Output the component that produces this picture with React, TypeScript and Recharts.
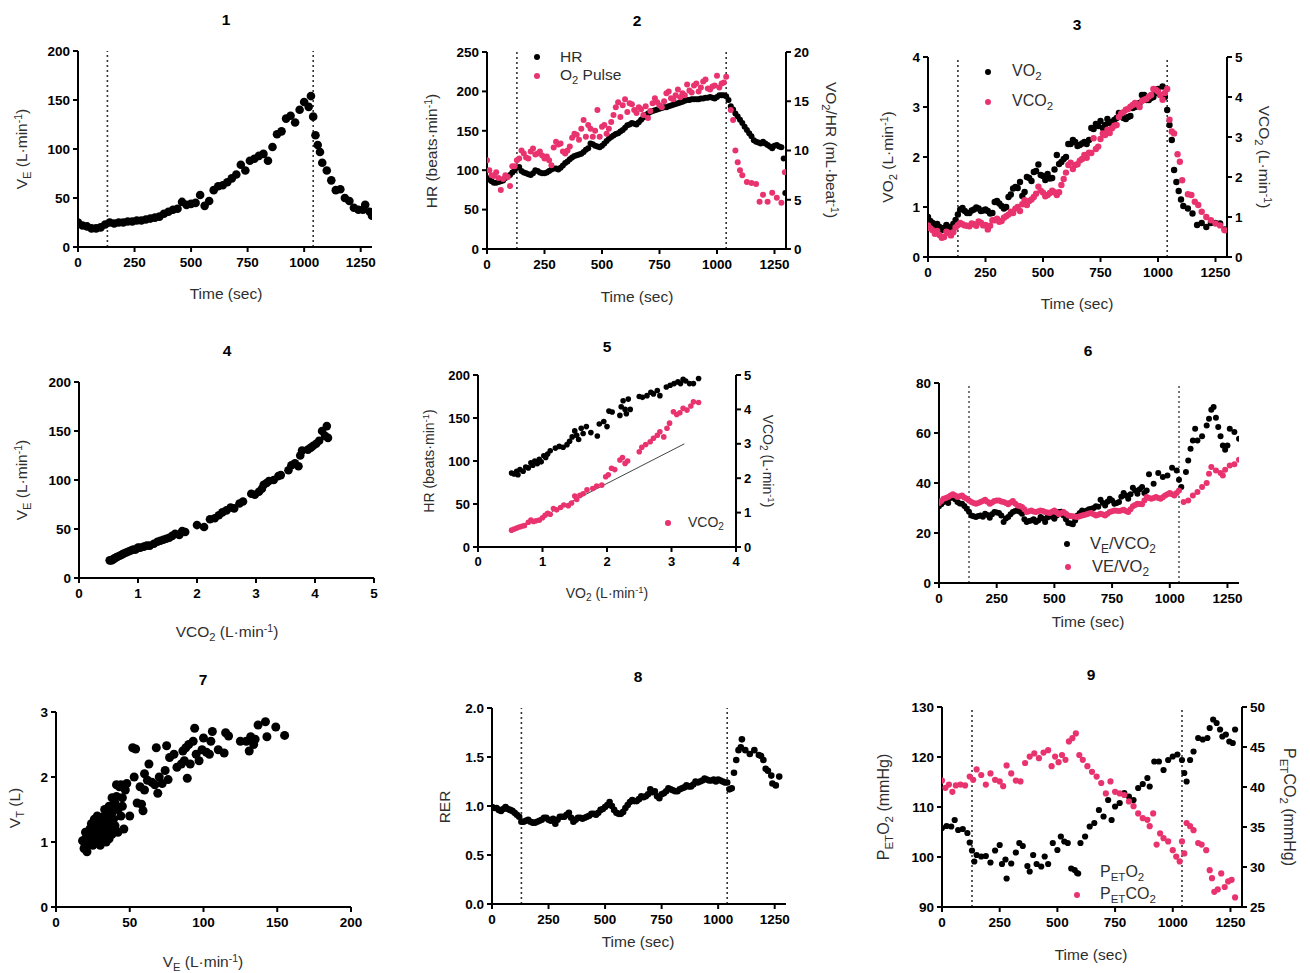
import React from 'react';
import { ScatterChart, Scatter, XAxis, YAxis, ReferenceLine } from 'recharts';

const FONT = '"Liberation Sans", Arial, Helvetica, sans-serif';
const BLACK = '#000000';
const PINK = '#e9336f';

// ---------- tick labels ----------
const timeTicks = [0, 250, 500, 750, 1000, 1250];
const ve200Ticks = [0, 50, 100, 150, 200];
const hr250Ticks = [0, 50, 100, 150, 200, 250];
const o2pTicks = [0, 5, 10, 15, 20];
const vo2Ticks = [0, 1, 2, 3, 4];
const vco2Ticks = [0, 1, 2, 3, 4, 5];
const ratioTicks = [0, 20, 40, 60, 80];
const vtTicks = [0, 1, 2, 3];
const ve7Ticks = [0, 50, 100, 150, 200];
const rerTicks = [0, 0.5, 1, 1.5, 2];
const peto2Ticks = [90, 100, 110, 120, 130];
const petco2Ticks = [25, 30, 35, 40, 45, 50];
const thresholds = [130, 1040];

// ---------- panel 1: VE vs time ----------
const p1Time = [0,20,40,60,80,100,120,140,160,180,200,220,240,260,280,300,320,340,360,380,400,420,440,460,480,500,520,540,560,580,600,620,640,660,680,700,720,740,760,780,800,820,840,860,880,900,920,940,960,980,1000,1020,1030,1040,1050,1060,1070,1080,1100,1120,1140,1160,1180,1200,1220,1240,1260,1270,1290,1300];
const p1VE = [25,22,21,19,19,20,23,25,24,25,25,26,26,27,27,28,29,30,31,34,36,38,39,46,43,44,45,53,42,47,58,62,63,66,70,74,84,78,88,90,93,95,88,102,115,118,131,134,127,140,148,143,154,133,114,104,97,86,78,68,58,59,50,47,40,38,38,43,36,32];

// ---------- panel 2: HR and O2 pulse vs time ----------
const p2TimeHR = [0,20,40,60,80,100,120,140,160,180,200,220,240,260,280,300,320,340,360,380,400,420,440,460,480,500,520,540,560,580,600,620,640,660,680,700,720,740,760,780,800,820,840,860,880,900,920,940,960,980,1000,1020,1040,1060,1080,1100,1120,1140,1160,1180,1200,1220,1240,1260,1280,1290,1297];
const p2HR = [90,86,84,86,90,94,100,104,97,95,96,99,96,97,101,102,103,109,114,118,120,123,128,133,130,131,137,142,146,149,154,158,159,161,167,172,175,177,179,180,182,184,186,188,189,190,190,191,192,192,193,195,194,181,172,164,155,147,138,135,136,132,128,132,129,115,71];
const p2TimeHRb = [10,30,50,70,90,110,130,150,170,190,210,230,250,270,290,310,330,350,370,390,410,430,450,470,490,510,530,550,570,590,610,630,650,670,690,710,730,750,770,790,810,830,850,870,890,910,930,950,970,990,1010,1030,1050,1070,1090,1110,1130,1150,1170,1190,1210,1230,1250,1270];
const p2HRb = [88,84,85,87,92,97,103,99,96,94,100,97,96,99,102,101,106,111,116,119,121,126,134,131,129,134,140,144,147,151,157,160,158,164,170,174,176,178,180,181,183,185,187,189,190,190,191,192,193,191,195,195,189,177,168,160,151,143,136,134,134,130,131,130];
const p2TimeO2 = [0,20,40,60,80,100,120,140,160,180,200,220,240,260,280,300,320,340,360,380,400,420,440,460,480,500,520,540,560,580,600,620,640,660,680,700,720,740,760,780,800,820,840,860,880,900,920,940,960,980,1000,1020,1040,1060,1070,1080,1090,1100,1110,1130,1150,1170,1185,1200,1220,1240,1260,1280,1295];
const p2O2Pulse = [9.0,7.5,7.8,6.0,7.5,6.4,8.4,9.2,9.7,9.2,10.2,9.7,9.5,9.4,8.5,10.9,10.7,9.7,10.4,11.7,11.1,13.1,12.6,11.4,14.1,12.4,11.7,12.9,14.4,13.4,15.2,14.8,14.1,14.4,13.6,13.3,14.8,14.9,14.4,15.8,15.3,15.6,15.4,15.6,16.1,16.6,16.0,17.0,16.3,16.5,17.6,16.8,17.5,14.1,13.1,10.0,8.8,8.0,7.5,6.8,6.7,6.6,4.8,5.5,4.8,5.7,5.2,4.7,7.8];
const p2TimeO2b = [10,30,50,70,90,110,130,150,170,190,210,230,250,270,290,310,330,350,370,390,410,430,450,470,490,510,530,550,570,590,610,630,650,670,690,710,730,750,770,790,810,830,850,870,890,910,930,950,970,990,1010,1030];
const p2O2Pulseb = [8.0,7.4,7.2,7.1,7.3,8.4,9.0,10.0,9.3,9.9,9.6,9.9,9.2,9.0,10.3,10.6,9.9,10.0,11.3,11.6,12.2,11.4,12.2,12.0,11.4,12.6,12.2,13.6,14.9,14.6,13.9,14.7,13.8,14.2,14.5,14.0,15.3,14.6,15.0,16.0,15.2,16.2,15.8,16.7,15.9,16.8,16.4,17.2,16.2,16.6,16.4,16.9];

// ---------- panel 3: VO2 and VCO2 vs time ----------
const p3TimeVO2 = [0,20,40,60,80,100,120,140,160,180,200,220,240,260,280,300,320,340,360,380,400,420,440,460,480,500,520,540,560,580,600,620,640,660,680,700,720,740,760,780,800,820,840,860,880,900,920,940,960,980,1000,1010,1020,1030,1040,1050,1060,1070,1080,1090,1100,1110,1130,1150,1170,1190,1210,1230,1250,1270,1290];
const p3VO2 = [0.80,0.68,0.66,0.54,0.64,0.55,0.74,0.95,0.92,0.88,0.95,0.97,0.93,0.92,0.88,1.12,1.02,1.00,1.25,1.40,1.50,1.30,1.58,1.70,1.85,1.62,1.66,1.58,2.04,1.90,2.00,2.26,2.30,2.24,2.30,2.34,2.56,2.62,2.58,2.76,2.70,2.78,2.84,2.76,2.82,3.00,3.08,3.24,3.14,3.20,3.36,3.24,3.41,3.20,2.94,2.64,2.34,1.74,1.50,1.32,1.15,1.02,0.97,0.87,0.64,0.68,0.60,0.68,0.68,0.67,0.55];
const p3TimeVO2b = [10,30,50,70,90,110,130,150,170,190,210,230,250,270,290,310,330,350,370,390,410,430,450,470,490,510,530,550,570,590,610,630,650,670,690,710,730,750,770,790,810,830,850,870,890,910,930,950,970,990];
const p3VO2b = [0.72,0.62,0.60,0.58,0.60,0.66,0.85,0.98,0.88,0.93,0.99,0.92,0.95,0.87,1.10,1.07,0.97,1.20,1.37,1.38,1.22,1.60,1.52,1.72,1.64,1.54,1.57,1.75,1.86,1.96,2.26,2.34,2.22,2.27,2.26,2.58,2.66,2.72,2.64,2.68,2.74,2.88,2.78,2.80,2.98,3.02,3.24,3.14,3.18,3.28];
const p3TimeVCO2 = [0,20,40,60,80,100,120,140,160,180,200,220,240,260,280,300,320,340,360,380,400,420,440,460,480,500,520,540,560,580,600,620,640,660,680,700,720,740,760,780,800,820,840,860,880,900,920,940,960,980,1000,1020,1040,1050,1060,1070,1085,1095,1105,1130,1145,1160,1175,1190,1210,1230,1250,1270,1290];
const p3VCO2 = [0.79,0.67,0.65,0.48,0.63,0.54,0.74,0.85,0.79,0.77,0.82,0.89,0.79,0.69,0.92,0.96,0.90,1.02,1.13,1.21,1.15,1.42,1.40,1.50,1.76,1.61,1.55,1.66,1.55,1.80,2.11,2.36,2.30,2.41,2.55,2.61,2.97,2.76,3.09,3.18,3.22,3.30,3.59,3.68,3.76,3.85,3.75,3.93,4.01,4.20,4.14,3.93,4.20,3.43,3.14,3.09,2.57,2.38,1.92,1.57,1.55,1.38,1.30,1.13,1.00,0.92,0.84,0.79,0.67];
const p3TimeVCO2b = [10,30,50,70,90,110,130,150,170,190,210,230,250,270,290,310,330,350,370,390,410,430,450,470,490,510,530,550,570,590,610,630,650,670,690,710,730,750,770,790,810,830,850,870,890,910,930,950,970,990,1010,1030];
const p3VCO2b = [0.72,0.58,0.55,0.50,0.60,0.62,0.80,0.82,0.78,0.84,0.78,0.86,0.80,0.78,0.92,0.88,0.98,1.06,1.10,1.25,1.32,1.30,1.44,1.58,1.66,1.52,1.60,1.62,1.62,1.95,2.30,2.20,2.32,2.45,2.48,2.60,2.70,2.95,3.05,3.10,3.28,3.50,3.62,3.70,3.80,3.82,3.90,3.95,4.05,4.18,4.05,4.10];

// ---------- panel 4: VE vs VCO2 ----------
const p4VCO2 = [0.52,0.55,0.58,0.6,0.63,0.66,0.7,0.73,0.76,0.8,0.84,0.88,0.92,0.96,1.0,1.04,1.1,1.15,1.2,1.27,1.33,1.38,1.43,1.48,1.53,1.58,1.63,1.7,1.75,1.8,2.0,2.12,2.22,2.3,2.37,2.43,2.5,2.57,2.63,2.72,2.78,2.92,2.98,3.05,3.1,3.13,3.18,3.22,3.3,3.38,3.42,3.55,3.6,3.66,3.72,3.75,3.78,3.88,3.93,3.97,4.02,4.07,4.12,4.17,4.2,4.22];
const p4VE = [18,18,19,20,21,22,23,24,25,26,27,28,29,29,31,31,32,33,33,35,37,38,39,40,41,43,45,44,48,47,54,52,60,61,64,67,69,72,71,76,78,86,85,88,91,95,97,99,100,104,105,110,115,117,114,125,130,131,133,135,137,140,150,145,155,143];

// ---------- panel 5: HR and VCO2 vs VO2 ----------
const p5VO2forHR = [0.52,0.56,0.6,0.62,0.65,0.7,0.74,0.78,0.82,0.85,0.88,0.92,0.95,0.98,1.02,1.05,1.08,1.12,1.2,1.26,1.32,1.38,1.42,1.46,1.5,1.53,1.56,1.6,1.63,1.68,1.75,1.85,1.88,1.95,2.0,2.03,2.08,2.2,2.22,2.25,2.28,2.3,2.33,2.36,2.5,2.55,2.62,2.68,2.72,2.78,2.82,2.92,2.98,3.04,3.1,3.14,3.18,3.22,3.28,3.34,3.42];
const p5HR = [86,85,88,84,90,88,93,92,98,95,100,97,102,99,106,104,108,112,115,117,116,119,123,128,135,130,125,138,132,140,133,129,143,146,140,158,157,153,163,170,160,155,172,160,175,174,176,180,178,182,176,186,188,190,192,190,195,193,190,190,196];
const p5VO2forVCO2 = [0.52,0.56,0.6,0.64,0.68,0.72,0.78,0.82,0.86,0.9,0.95,1.0,1.04,1.08,1.12,1.17,1.22,1.28,1.33,1.4,1.45,1.5,1.53,1.58,1.63,1.69,1.78,1.84,1.92,1.98,2.02,2.07,2.12,2.2,2.24,2.28,2.32,2.5,2.54,2.6,2.67,2.72,2.78,2.82,2.88,2.93,2.97,3.03,3.08,3.13,3.18,3.24,3.3,3.34,3.42];
const p5VCO2 = [0.49,0.52,0.55,0.58,0.6,0.62,0.72,0.78,0.74,0.76,0.78,0.85,0.92,0.98,0.95,1.12,1.08,1.15,1.22,1.2,1.28,1.48,1.38,1.5,1.55,1.66,1.7,1.77,1.8,2.04,2.1,2.29,2.25,2.53,2.6,2.43,2.5,2.77,2.9,2.98,3.06,3.16,3.25,3.35,3.2,3.45,3.6,3.93,3.85,3.9,4.03,3.98,4.1,4.22,4.2];
const p5LineVO2 = [1.15, 3.2];
const p5LineVCO2 = [1.03, 3.0];

// ---------- panel 6: ventilatory equivalents vs time ----------
const p6TimeA = [0,20,40,60,80,100,120,140,160,180,200,220,240,260,280,300,320,340,360,380,400,420,440,460,480,500,520,540,560,580,600,620,640,660,680,700,720,740,760,780,800,820,840,860,880,900,910,930,950,970,990,1010,1030,1040,1050,1070,1080,1090,1100,1110,1120,1140,1160,1170,1180,1190,1200,1210,1220,1230,1240,1250,1260,1280,1300];
const p6VEVCO2 = [30.7,32.4,32,34.7,32.4,31.7,29.7,27,26.4,27,27.7,26.1,28.4,28,24.4,26.4,28.4,29,27.7,24.4,25,24.4,26.4,24.4,27,25.7,28.4,27,24,23.5,27,29,29,29.7,30.7,33.3,31,33.7,31.7,32.4,36,33.7,38.1,35.7,38.4,37,43.5,39.7,44,42.4,43,46.1,45,41.3,38.4,44.4,49,53.7,57,61.7,57,58.7,63,65.7,69.3,70.4,66.1,62.4,58.7,55,53.3,55,61.7,60.4,57.7];
const p6TimeAb = [10,30,50,70,90,110,130,150,170,190,210,230,250,270,290,310,330,350,370,390,410,430,450,470,490,510,530,550,570,590,610,630,650,670,690,710,730,750,770,790,810,830,850,870,890];
const p6VEVCO2b = [31.5,32.8,34,33.5,31.8,30.8,28.5,26.7,26.8,26.5,27.2,27.5,28.2,27,25.8,27.5,28.8,28.5,25.5,24.8,25.5,25,25.8,26.2,26.5,27,28.5,25.5,23.8,25,28,28.5,29.5,30,30.5,32,32.5,33,32,34.5,35,35.5,37,37.5,36];
const p6TimeB = [0,20,40,60,80,100,120,140,160,180,200,220,240,260,280,300,320,340,360,380,400,420,440,460,480,500,520,540,560,580,600,620,640,660,680,700,720,740,760,780,800,820,840,860,880,900,920,940,960,980,1000,1020,1040,1060,1080,1100,1120,1140,1160,1170,1180,1200,1220,1230,1240,1260,1280,1300];
const p6VEVO2 = [32,33.7,34.4,35.5,34.4,35,33.7,32.4,31.7,32.4,33.3,31.7,32.8,33,32.4,31.5,32.8,31,30.4,28.4,29,28.4,29,28.4,28,29,27.5,28.4,27,26.7,26.4,27,27.5,28,27,27.7,27,28.4,29,28.8,29.3,28.4,30.7,31.7,31.5,34.4,33.7,34.4,33.7,35,36,35,37,32.4,33,35,36.4,38.4,40,43.7,46.4,45,44,43,45.3,47,47.5,49.3];
const p6TimeBb = [10,30,50,70,90,110,130,150,170,190,210,230,250,270,290,310,330,350,370,390,410,430,450,470,490,510,530,550,570,590,610,630,650,670,690,710,730,750,770,790,810,830,850,870,890,910,930,950,970,990,1010,1030];
const p6VEVO2b = [32.8,34,35,35,34.7,34.2,33,32,32,32.8,32.5,32.2,33,32.6,32,32.2,31.8,30.8,29.5,28.7,28.6,28.7,28.8,28.2,28.5,28.2,28,27.7,26.8,26.5,26.7,27.2,27.8,27.5,27.3,27.4,27.7,28.7,28.9,29,28.8,29.5,31.2,31.6,33,34,34,34,34.3,35.5,35.5,36];

// ---------- panel 7: VT vs VE ----------
const p7VE = [18,19,20,21,22,22,23,24,24,25,25,26,26,27,27,28,28,29,29,30,30,31,31,32,32,33,33,34,34,35,35,36,36,37,38,38,38,39,40,40,41,41,42,42,43,44,44,45,45,46,46,47,48,50,52,53,54,55,57,58,59,60,60,62,63,65,67,68,69,70,72,74,75,76,77,80,82,85,86,87,88,89,90,91,93,94,95,97,99,100,102,104,105,106,110,114,115,117,125,129,131,132,134,135,137,142,143,149,155,20,21,23,24,25,26,27,28,29,30,31,32,33,34,35,36,37,39,26,29];
const p7VT = [1.02,0.9,1.05,0.85,1.1,0.95,1.2,1.0,1.28,1.1,0.95,1.15,1.35,1.05,1.25,1.0,1.4,1.15,1.3,0.95,1.2,1.1,1.38,1.05,1.25,1.3,1.5,1.15,1.0,1.2,1.4,1.05,1.55,1.3,1.12,1.45,1.68,1.35,1.25,1.6,1.7,1.88,1.5,1.15,1.85,1.4,1.88,1.55,1.68,1.2,1.85,1.8,1.9,1.4,2.45,2.0,2.43,1.6,1.85,1.58,1.48,1.8,2.05,1.95,2.2,1.92,1.88,2.45,1.75,2.0,1.9,2.1,2.48,1.96,2.3,2.35,2.15,2.2,2.4,2.25,2.45,1.98,2.5,2.2,2.55,2.75,2.35,2.25,2.42,2.6,2.38,2.35,2.55,2.7,2.42,2.37,2.68,2.63,2.55,2.55,2.4,2.62,2.5,2.58,2.8,2.85,2.62,2.77,2.64,1.15,1.0,0.98,1.12,1.22,1.05,1.32,1.18,1.02,1.3,1.22,1.12,1.02,1.28,1.08,1.2,1.45,1.52,0.98,1.22];

// ---------- panel 8: RER vs time ----------
const p8Time = [0,20,40,60,80,100,120,140,160,180,200,220,240,260,280,300,320,340,360,380,400,420,440,460,480,500,520,540,560,580,600,620,640,660,680,700,720,740,760,780,800,820,840,860,880,900,920,940,960,980,1000,1020,1040,1050,1060,1070,1080,1090,1100,1105,1120,1140,1160,1180,1190,1200,1210,1220,1235,1240,1255,1270];
const p8RER = [0.99,0.98,0.95,0.99,0.96,0.93,0.89,0.84,0.86,0.83,0.84,0.86,0.88,0.85,0.82,0.89,0.89,0.93,0.84,0.88,0.87,0.89,0.92,0.91,0.96,0.99,1.04,0.96,0.92,0.94,1.01,1.06,1.05,1.10,1.10,1.17,1.15,1.08,1.13,1.18,1.16,1.15,1.18,1.21,1.20,1.25,1.25,1.28,1.26,1.27,1.27,1.25,1.24,1.17,1.18,1.34,1.47,1.57,1.60,1.68,1.57,1.53,1.57,1.52,1.51,1.47,1.38,1.36,1.31,1.23,1.21,1.30];
const p8Timeb = [10,30,50,70,90,110,130,150,170,190,210,230,250,270,290,310,330,350,370,390,410,430,450,470,490,510,530,550,570,590,610,630,650,670,690,710,730,750,770,790,810,830,850,870,890,910,930,950,970,990,1010,1030];
const p8RERb = [0.98,0.96,0.97,0.97,0.95,0.91,0.84,0.85,0.84,0.83,0.85,0.88,0.86,0.87,0.86,0.89,0.91,0.88,0.86,0.88,0.88,0.90,0.92,0.93,0.97,1.01,1.00,0.93,0.92,0.98,1.04,1.05,1.07,1.09,1.12,1.14,1.10,1.12,1.15,1.17,1.15,1.17,1.19,1.20,1.22,1.24,1.26,1.27,1.26,1.25,1.26,1.24];

// ---------- panel 9: end-tidal gases vs time ----------
const p9TimeO2 = [0,20,40,55,70,90,110,120,130,140,150,170,190,210,230,250,260,275,280,300,320,335,350,370,380,395,410,430,445,460,480,500,515,530,545,560,575,590,600,620,640,660,680,700,720,735,750,770,790,810,830,850,870,890,900,920,940,960,980,1000,1020,1040,1050,1060,1075,1090,1110,1130,1150,1160,1175,1190,1205,1215,1230,1245,1260,1270];
const p9PETO2 = [105.8,106.2,106.1,107.4,105.4,105.6,104.8,102.9,101.3,99.1,100.4,100.1,100.2,98.9,101.3,102.4,98.6,99.5,95.7,98.7,100.9,102.8,102.2,98.2,97.1,100.4,98.6,98.1,100.1,98.6,102.8,101.4,104.1,103.1,102.8,97.7,97.4,96.7,102.8,104.1,106.1,106.8,109.4,108.1,111.4,107.4,110.1,110.8,112.8,112.1,111.4,113.8,114.6,115.8,114.1,119.1,119.1,117.4,119.4,120.1,120.5,119.4,116.8,115.1,119.4,121.1,123.8,123.5,123.8,125.8,127.5,126.8,125.5,124.1,124.5,123.1,122.8,125.5];
const p9TimeCO2 = [0,15,30,45,60,80,100,120,135,150,170,190,210,230,250,265,280,300,320,340,360,380,400,420,440,460,475,490,505,520,535,550,565,580,595,610,630,650,670,690,710,730,750,770,790,810,830,850,870,890,900,915,930,945,960,980,1000,1015,1030,1040,1050,1060,1075,1090,1110,1125,1145,1160,1170,1180,1195,1210,1225,1240,1255,1270];
const p9PETCO2 = [40.8,39.9,40.3,39.4,40.2,40.3,40.2,41.3,40.9,42.2,41.5,40.3,41.7,40.9,40.7,40.1,42.7,41.7,40.8,40.7,43.0,43.8,44.2,43.6,44.3,44.6,42.6,43.8,43.1,44.0,43.4,45.7,46.1,46.7,44.0,43.4,42.6,41.9,41.3,40.5,39.2,40.7,39.4,39.2,39.0,38.2,37.6,36.7,36.1,35.9,35.1,36.7,32.8,34.2,33.6,33.2,32.1,31.3,30.7,33.2,31.7,35.5,35.1,34.6,33.0,32.8,32.1,29.6,28.6,26.9,27.2,29.2,27.5,28.2,28.4,26.2];

// ---------- helpers ----------
const zip = (xs: number[], ys: number[]) => xs.map((x, i) => ({ x, y: ys[i] }));

type Pt = { x: number; y: number };
type SeriesDef = { data: Pt[]; color: string; r: number; axis?: 'left' | 'right' };
type PanelDef = {
  l: number; t: number; r: number; b: number;
  xDomain: [number, number]; xTicks: number[];
  yDomain: [number, number]; yTicks: number[];
  yRDomain?: [number, number]; yRTicks?: number[];
  yFmt?: (v: number) => string;
  series: SeriesDef[];
  vlines?: number[];
  segment?: [Pt, Pt];
  fs?: number;
  vlineWidth?: number;
};

function Panel(p: PanelDef) {
  const leftW = 52;
  const hasR = !!p.yRDomain;
  const rightW = hasR ? 45 : 14;
  const topPad = 12;
  const xH = 32;
  const width = p.r - p.l + leftW + rightW;
  const height = p.b - p.t + topPad + xH;
  const tick = { fill: '#000', fontSize: p.fs ?? 13.5, fontWeight: 700, fontFamily: FONT };
  const line = { stroke: '#000', strokeWidth: 2 };
  return (
    <div style={{ position: 'absolute', left: p.l - leftW, top: p.t - topPad }}>
      <ScatterChart width={width} height={height} margin={{ top: topPad, right: hasR ? 0 : rightW, bottom: 0, left: 0 }}>
        <XAxis type="number" dataKey="x" domain={p.xDomain} ticks={p.xTicks} height={xH} interval={0}
          axisLine={line} tickLine={line} tickSize={5} tickMargin={5} tick={tick} allowDataOverflow />
        <YAxis yAxisId="left" type="number" dataKey="y" domain={p.yDomain} ticks={p.yTicks} width={leftW} interval={0}
          axisLine={line} tickLine={line} tickSize={5} tickMargin={3} tick={tick} tickFormatter={p.yFmt} allowDataOverflow />
        {hasR && (
          <YAxis yAxisId="right" orientation="right" type="number" dataKey="y" domain={p.yRDomain} ticks={p.yRTicks}
            width={rightW} interval={0} axisLine={line} tickLine={line} tickSize={5} tickMargin={3} tick={tick} allowDataOverflow />
        )}
        {(p.vlines ?? []).map((v) => (
          <ReferenceLine key={v} x={v} yAxisId="left" stroke="#333" strokeWidth={p.vlineWidth ?? 1.6} strokeDasharray="2 3" />
        ))}
        {p.segment && (
          <ReferenceLine yAxisId="right" segment={p.segment} stroke="#444" strokeWidth={1} />
        )}
        {p.series.map((s, i) => (
          <Scatter key={i} data={s.data} yAxisId={s.axis ?? 'left'} fill={s.color} isAnimationActive={false}
            shape={(props: any) => <circle cx={props.cx} cy={props.cy} r={s.r} fill={s.color} />} />
        ))}
      </ScatterChart>
    </div>
  );
}

const Sub = ({ children }: { children: React.ReactNode }) => (
  <span style={{ fontSize: '0.72em', position: 'relative', top: '0.32em', lineHeight: 0 }}>{children}</span>
);
const Sup = ({ children }: { children: React.ReactNode }) => (
  <span style={{ fontSize: '0.68em', position: 'relative', top: '-0.5em', lineHeight: 0 }}>{children}</span>
);

type TxtProps = { x: number; y: number; rot?: number; size?: number; weight?: number; color?: string; left?: boolean; children: React.ReactNode };
const Txt = ({ x, y, rot = 0, size = 15.5, weight = 400, color = '#2e2e2e', left = false, children }: TxtProps) => (
  <div style={{
    position: 'absolute', left: x, top: y,
    transform: `translate(${left ? '0' : '-50%'},-50%) rotate(${rot}deg)`,
    fontSize: size, fontWeight: weight, color, whiteSpace: 'nowrap', lineHeight: 1, fontFamily: FONT,
  }}>{children}</div>
);
const Dot = ({ x, y, r, color }: { x: number; y: number; r: number; color: string }) => (
  <div style={{ position: 'absolute', left: x - r, top: y - r, width: 2 * r, height: 2 * r, borderRadius: '50%', background: color }} />
);

const Title = ({ x, y, children }: { x: number; y: number; children: React.ReactNode }) => (
  <Txt x={x} y={y} size={15.5} weight={700} color="#000">{children}</Txt>
);

const LMin = () => (<>(L·min<Sup>-1</Sup>)</>);

export default function App() {
  return (
    <div style={{ position: 'absolute', left: 0, top: 0, width: 1310, height: 973, background: '#fff', fontFamily: FONT, overflow: 'hidden' }}>
      {/* Panel 1 */}
      <Panel l={78} t={51} r={372} b={247} xDomain={[0, 1300]} xTicks={timeTicks} yDomain={[0, 200]} yTicks={ve200Ticks}
        vlines={thresholds} series={[{ data: zip(p1Time, p1VE), color: BLACK, r: 4.3 }]} />
      <Title x={226} y={20}>1</Title>
      <Txt x={22} y={149} rot={-90}>V<Sub>E</Sub> <LMin /></Txt>
      <Txt x={226} y={294}>Time (sec)</Txt>

      {/* Panel 2 */}
      <Panel l={487} t={52} r={786} b={249} xDomain={[0, 1300]} xTicks={timeTicks} yDomain={[0, 250]} yTicks={hr250Ticks}
        yRDomain={[0, 20]} yRTicks={o2pTicks} vlines={thresholds}
        series={[
          { data: [...zip(p2TimeHR, p2HR), ...zip(p2TimeHRb, p2HRb)], color: BLACK, r: 3 },
          { data: [...zip(p2TimeO2, p2O2Pulse), ...zip(p2TimeO2b, p2O2Pulseb)], color: PINK, r: 3, axis: 'right' },
        ]} />
      <Title x={637} y={21}>2</Title>
      <Txt x={432} y={151} rot={-90}>HR (beats·min<Sup>-1</Sup>)</Txt>
      <Txt x={831} y={150} rot={90}>VO<Sub>2</Sub>/HR (mL·beat<Sup>-1</Sup>)</Txt>
      <Txt x={637} y={297}>Time (sec)</Txt>
      <Dot x={537} y={57} r={3} color={BLACK} />
      <Txt x={560} y={57} left size={15.5}>HR</Txt>
      <Dot x={537} y={76} r={3} color={PINK} />
      <Txt x={560} y={75} left size={15.5}>O<Sub>2</Sub> Pulse</Txt>

      {/* Panel 3 */}
      <Panel l={928} t={57} r={1227} b={257} xDomain={[0, 1300]} xTicks={timeTicks} yDomain={[0, 4]} yTicks={vo2Ticks}
        yRDomain={[0, 5]} yRTicks={vco2Ticks} vlines={thresholds}
        series={[
          { data: [...zip(p3TimeVO2, p3VO2), ...zip(p3TimeVO2b, p3VO2b)], color: BLACK, r: 3.2 },
          { data: [...zip(p3TimeVCO2, p3VCO2), ...zip(p3TimeVCO2b, p3VCO2b)], color: PINK, r: 3.2, axis: 'right' },
        ]} />
      <Title x={1077} y={25}>3</Title>
      <Txt x={888} y={157} rot={-90}>VO<Sub>2</Sub> <LMin /></Txt>
      <Txt x={1264} y={157} rot={90}>VCO<Sub>2</Sub> <LMin /></Txt>
      <Txt x={1077} y={304}>Time (sec)</Txt>
      <Dot x={988} y={72} r={3.2} color={BLACK} />
      <Txt x={1012} y={71} left size={16}>VO<Sub>2</Sub></Txt>
      <Dot x={988} y={102} r={3.2} color={PINK} />
      <Txt x={1012} y={101} left size={16}>VCO<Sub>2</Sub></Txt>

      {/* Panel 4 */}
      <Panel l={79} t={382} r={374} b={578} xDomain={[0, 5]} xTicks={vco2Ticks} yDomain={[0, 200]} yTicks={ve200Ticks}
        series={[{ data: zip(p4VCO2, p4VE), color: BLACK, r: 4.3 }]} />
      <Title x={227} y={351}>4</Title>
      <Txt x={22} y={480} rot={-90}>V<Sub>E</Sub> <LMin /></Txt>
      <Txt x={227} y={632}>VCO<Sub>2</Sub> <LMin /></Txt>

      {/* Panel 5 */}
      <Panel l={478} t={375} r={736} b={547} xDomain={[0, 4]} xTicks={vo2Ticks} yDomain={[0, 200]} yTicks={ve200Ticks}
        yRDomain={[0, 5]} yRTicks={vco2Ticks} fs={13}
        segment={[{ x: p5LineVO2[0], y: p5LineVCO2[0] }, { x: p5LineVO2[1], y: p5LineVCO2[1] }]}
        series={[
          { data: zip(p5VO2forHR, p5HR), color: BLACK, r: 2.8 },
          { data: zip(p5VO2forVCO2, p5VCO2), color: PINK, r: 2.8, axis: 'right' },
        ]} />
      <Title x={607} y={347}>5</Title>
      <Txt x={429} y={461} rot={-90} size={14}>HR (beats·min<Sup>-1</Sup>)</Txt>
      <Txt x={768} y={461} rot={90} size={14}>VCO<Sub>2</Sub> <LMin /></Txt>
      <Txt x={607} y={593} size={14}>VO<Sub>2</Sub> <LMin /></Txt>
      <Dot x={668} y={523} r={2.8} color={PINK} />
      <Txt x={688} y={522} left size={14}>VCO<Sub>2</Sub></Txt>

      {/* Panel 6 */}
      <Panel l={939} t={383} r={1239} b={583} xDomain={[0, 1300]} xTicks={timeTicks} yDomain={[0, 80]} yTicks={ratioTicks}
        vlines={thresholds} vlineWidth={1.3}
        series={[
          { data: [...zip(p6TimeA, p6VEVCO2), ...zip(p6TimeAb, p6VEVCO2b)], color: BLACK, r: 3 },
          { data: [...zip(p6TimeB, p6VEVO2), ...zip(p6TimeBb, p6VEVO2b)], color: PINK, r: 3 },
        ]} />
      <Title x={1088} y={351}>6</Title>
      <Txt x={1088} y={622}>Time (sec)</Txt>
      <Dot x={1067} y={544} r={3} color={BLACK} />
      <Txt x={1090} y={543} left size={16.5}>V<Sub>E</Sub>/VCO<Sub>2</Sub></Txt>
      <Dot x={1068} y={567} r={3} color={PINK} />
      <Txt x={1092} y={566} left size={16.5}>VE/VO<Sub>2</Sub></Txt>

      {/* Panel 7 */}
      <Panel l={56} t={712} r={351} b={907} xDomain={[0, 200]} xTicks={ve7Ticks} yDomain={[0, 3]} yTicks={vtTicks}
        series={[{ data: zip(p7VE, p7VT), color: BLACK, r: 4.5 }]} />
      <Title x={203} y={680}>7</Title>
      <Txt x={15} y={808} rot={-90}>V<Sub>T</Sub> (L)</Txt>
      <Txt x={203} y={962}>V<Sub>E</Sub> <LMin /></Txt>

      {/* Panel 8 */}
      <Panel l={492} t={708} r={786} b={904} xDomain={[0, 1300]} xTicks={timeTicks} yDomain={[0, 2]} yTicks={rerTicks}
        yFmt={(v) => v.toFixed(1)} vlines={thresholds}
        series={[{ data: [...zip(p8Time, p8RER), ...zip(p8Timeb, p8RERb)], color: BLACK, r: 3.3 }]} />
      <Title x={638} y={677}>8</Title>
      <Txt x={445} y={807} rot={-90}>RER</Txt>
      <Txt x={638} y={942}>Time (sec)</Txt>

      {/* Panel 9 */}
      <Panel l={942} t={707} r={1242} b={907} xDomain={[0, 1300]} xTicks={timeTicks} yDomain={[90, 130]} yTicks={peto2Ticks}
        yRDomain={[25, 50]} yRTicks={petco2Ticks} vlines={thresholds}
        series={[
          { data: zip(p9TimeO2, p9PETO2), color: BLACK, r: 3.1 },
          { data: zip(p9TimeCO2, p9PETCO2), color: PINK, r: 3.1, axis: 'right' },
        ]} />
      <Title x={1091} y={675}>9</Title>
      <Txt x={884} y={807} rot={-90} size={16}>P<Sub>ET</Sub>O<Sub>2</Sub> (mmHg)</Txt>
      <Txt x={1289} y={807} rot={90} size={16}>P<Sub>ET</Sub>CO<Sub>2</Sub> (mmHg)</Txt>
      <Txt x={1091} y={955}>Time (sec)</Txt>
      <Dot x={1077} y={873} r={3} color={BLACK} />
      <Txt x={1100} y={872} left size={16}>P<Sub>ET</Sub>O<Sub>2</Sub></Txt>
      <Dot x={1077} y={895} r={3} color={PINK} />
      <Txt x={1100} y={894} left size={16}>P<Sub>ET</Sub>CO<Sub>2</Sub></Txt>
    </div>
  );
}
